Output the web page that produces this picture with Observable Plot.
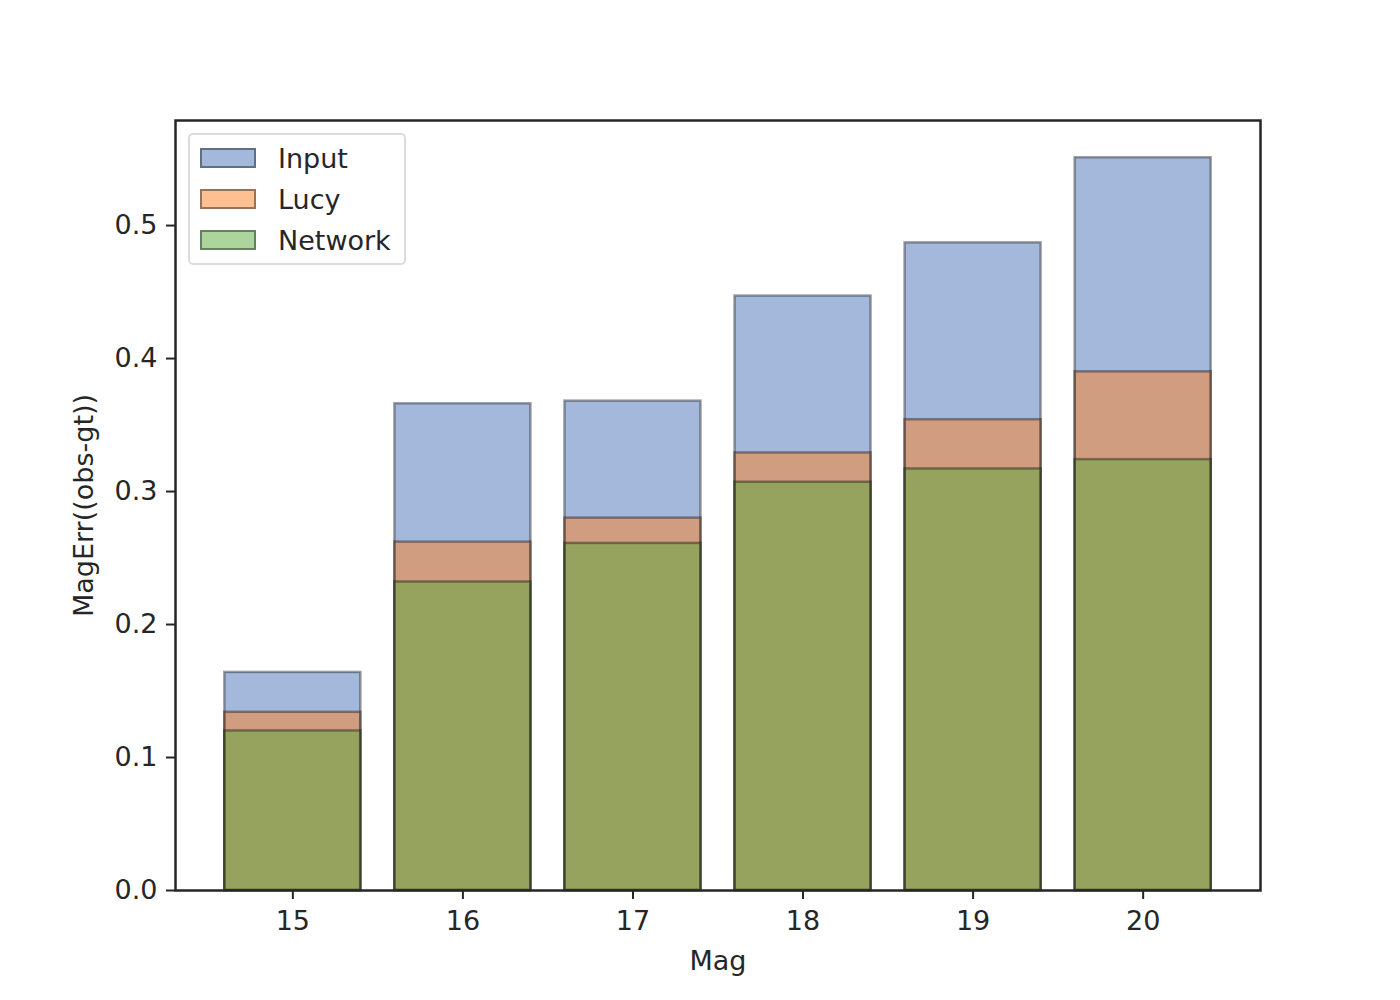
<!DOCTYPE html>
<html>
<head>
<meta charset="utf-8">
<script src="https://cdn.jsdelivr.net/npm/d3@7"></script>
<script src="https://cdn.jsdelivr.net/npm/@observablehq/plot@0.6"></script>
<style>
  body { margin: 0; background: #fff; font-family: "DejaVu Sans", sans-serif; }
  #wrap { position: relative; width: 1400px; height: 1000px; }
  #legend { position: absolute; left: 188px; top: 133px; width: 218px; height: 132px;
    border: 2px solid #dcdcdc; border-radius: 5px; background: rgba(255,255,255,0.8); box-sizing: border-box; }
  .row { position: absolute; left: 10px; height: 30px; display: flex; align-items: center; }
  .sw { width: 56px; height: 20px; border: 2.5px solid rgba(0,0,0,0.4); box-sizing: border-box; margin-right: 22px; }
  .lab { font-size: 27px; color: #262626; font-family: "DejaVu Sans", sans-serif; }
</style>
</head>
<body>
<div id="wrap"><div id="chart"></div><div id="legend"></div></div>
<script>
const mags = [15, 16, 17, 18, 19, 20];
const inputErr = [0.164, 0.366, 0.368, 0.447, 0.487, 0.551];
const lucyErr = [0.134, 0.262, 0.280, 0.329, 0.354, 0.390];
const networkErr = [0.120, 0.232, 0.261, 0.307, 0.317, 0.324];
const seriesNames = ["Input", "Lucy", "Network"];
const seriesColors = ["#4a72b8", "#fc8226", "#5aaa3c"];
const yTicks = [0, 0.1, 0.2, 0.3, 0.4, 0.5];

const seriesValues = [inputErr, lucyErr, networkErr];
const barMarks = seriesValues.map((vals, i) =>
  Plot.rectY(mags.map((m, j) => ({mag: m, v: vals[j]})), {
    x1: d => d.mag - 0.4, x2: d => d.mag + 0.4, y1: 0, y2: "v",
    fill: seriesColors[i], fillOpacity: 0.5,
    stroke: "black", strokeOpacity: 0.37, strokeWidth: 2.5
  })
);

const chart = Plot.plot({
  width: 1400, height: 1000,
  marginLeft: 175, marginRight: 140, marginTop: 120, marginBottom: 110,
  style: {fontFamily: "DejaVu Sans, sans-serif", fontSize: "27px", color: "#262626", background: "white"},
  x: {domain: [14.31, 20.69]},
  y: {domain: [0, 0.579]},
  marks: [
    ...barMarks,
    Plot.axisX({ticks: mags, tickFormat: d => String(d), tickSize: 9, tickPadding: 11, strokeWidth: 2,
      fontSize: 27, label: null}),
    Plot.axisX({ticks: [], label: "Mag", labelAnchor: "center", labelArrow: "none", labelOffset: 79, fontSize: 27}),
    Plot.axisY({ticks: yTicks, tickFormat: d3.format(".1f"), tickSize: 9, tickPadding: 9, strokeWidth: 2,
      fontSize: 27, label: null}),
    Plot.axisY({ticks: [], label: "MagErr((obs-gt))", labelAnchor: "center", labelArrow: "none", labelOffset: 102, fontSize: 27}),
    Plot.frame({stroke: "#262626", strokeWidth: 2.5})
  ]
});
document.getElementById("chart").appendChild(chart);

const legend = document.getElementById("legend");
seriesNames.forEach((name, i) => {
  const row = document.createElement("div");
  row.className = "row";
  row.style.top = (8 + i * 41) + "px";
  const sw = document.createElement("div");
  sw.className = "sw";
  const c = d3.color(seriesColors[i]); c.opacity = 0.5;
  sw.style.background = c.formatRgb();
  const lab = document.createElement("span");
  lab.className = "lab";
  lab.textContent = name;
  row.appendChild(sw); row.appendChild(lab);
  legend.appendChild(row);
});
</script>
</body>
</html>
